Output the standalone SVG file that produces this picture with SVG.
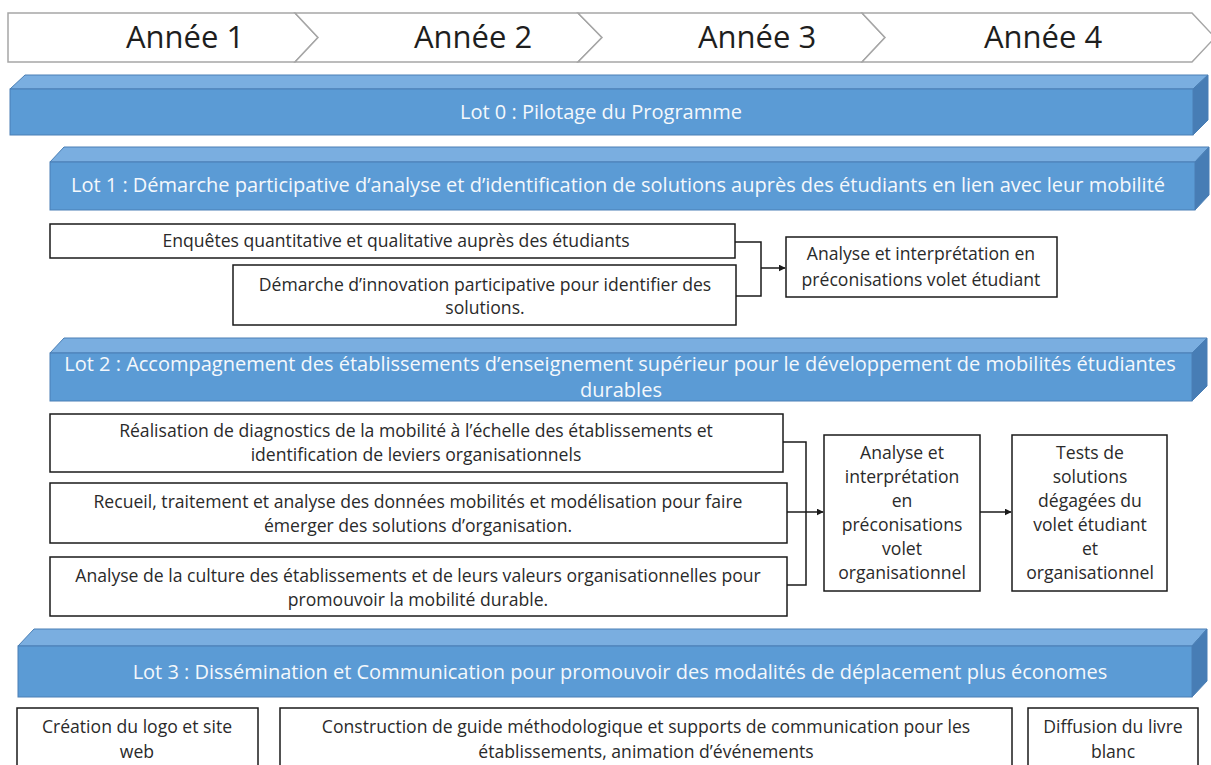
<svg xmlns="http://www.w3.org/2000/svg" width="1211" height="765" viewBox="0 0 1211 765">
  <defs>
    <style>
      .chev { fill: #ffffff; stroke: #a6a6a6; stroke-width: 1.5; }
      .year { font-family: "Open Sans", "Liberation Sans", sans-serif; font-size: 31px; fill: #1e1e1e; text-anchor: middle; }
      .front { fill: #5b9bd5; stroke: #4a7fb5; stroke-width: 1; }
      .top { fill: #7aaee0; stroke: #4a7fb5; stroke-width: 1; }
      .side { fill: #477db5; stroke: #4a7fb5; stroke-width: 1; }
      .lot { font-family: "Open Sans", "Liberation Sans", sans-serif; font-size: 20px; fill: #f4f8fc; text-anchor: middle; }
      .box { fill: #ffffff; stroke: #1a1a1a; stroke-width: 1.5; }
      .txt { font-family: "Open Sans", "Liberation Sans", sans-serif; font-size: 17.6px; fill: #2a2a2a; text-anchor: middle; }
      .wire { fill: none; stroke: #1a1a1a; stroke-width: 1.5; }
    </style>
    <marker id="arrow" viewBox="0 0 10 10" refX="9" refY="5" markerWidth="7" markerHeight="7" markerUnits="userSpaceOnUse" orient="auto">
      <path d="M0,0 L10,5 L0,10 z" fill="#1a1a1a"/>
    </marker>
  </defs>

  <rect width="1211" height="765" fill="#ffffff"/>

  <!-- Year timeline chevrons -->
  <g id="timeline">
    <polygon class="chev" points="8,13 295,13 318,37.5 295,62 8,62"/>
    <polygon class="chev" points="295,13 578,13 602,37.5 578,62 295,62 318,37.5"/>
    <polygon class="chev" points="578,13 862,13 885,37.5 862,62 578,62 602,37.5"/>
    <polygon class="chev" points="862,13 1192,13 1215,37.5 1192,62 862,62 885,37.5"/>
    <text class="year" x="185" y="48">Année 1</text>
    <text class="year" x="473" y="48">Année 2</text>
    <text class="year" x="757" y="48">Année 3</text>
    <text class="year" x="1043" y="48">Année 4</text>
  </g>

  <!-- Lot 0 -->
  <g id="lot0">
    <polygon class="top" points="10,89 25,75 1208,75 1193,89"/>
    <polygon class="side" points="1193,89 1208,75 1208,120 1193,135"/>
    <rect class="front" x="10" y="89" width="1183" height="46"/>
    <text class="lot" x="601" y="119">Lot 0 : Pilotage du Programme</text>
  </g>

  <!-- Lot 1 -->
  <g id="lot1">
    <polygon class="top" points="50,162 64,147 1209,147 1195,162"/>
    <polygon class="side" points="1195,162 1209,147 1209,195 1195,210"/>
    <rect class="front" x="50" y="162" width="1145" height="48"/>
    <text class="lot" x="618" y="192">Lot 1 : Démarche participative d’analyse et d’identification de solutions auprès des étudiants en lien avec leur mobilité</text>
  </g>

  <!-- Lot 1 tasks -->
  <g id="enquetes">
    <rect class="box" x="50" y="224" width="685" height="34"/>
    <text class="txt" x="396" y="247">Enquêtes quantitative et qualitative auprès des étudiants</text>
  </g>
  <g id="innovation">
    <rect class="box" x="233" y="265" width="503" height="60"/>
    <text class="txt" x="485" y="291">Démarche d’innovation participative pour identifier des</text>
    <text class="txt" x="485" y="314">solutions.</text>
  </g>
  <g id="analyse-etudiant">
    <rect class="box" x="786" y="237" width="271" height="60"/>
    <text class="txt" x="921" y="260">Analyse et interprétation en</text>
    <text class="txt" x="921" y="286">préconisations volet étudiant</text>
  </g>

  <!-- Lot 2 -->
  <g id="lot2">
    <polygon class="top" points="50,353 64,338 1207,338 1192,353"/>
    <polygon class="side" points="1192,353 1207,338 1207,386 1192,401"/>
    <rect class="front" x="50" y="353" width="1142" height="48"/>
    <text class="lot" x="620" y="371">Lot 2 : Accompagnement des établissements d’enseignement supérieur pour le développement de mobilités étudiantes</text>
    <text class="lot" x="621" y="397">durables</text>
  </g>

  <!-- Lot 2 tasks -->
  <g id="diagnostics">
    <rect class="box" x="50" y="414" width="733" height="58"/>
    <text class="txt" x="416" y="437">Réalisation de diagnostics de la mobilité  à l’échelle des établissements et</text>
    <text class="txt" x="416" y="461">identification de leviers organisationnels</text>
  </g>
  <g id="recueil">
    <rect class="box" x="50" y="483" width="737" height="60"/>
    <text class="txt" x="418" y="508">Recueil, traitement et analyse des données mobilités et modélisation  pour faire</text>
    <text class="txt" x="418" y="532">émerger des solutions d’organisation.</text>
  </g>
  <g id="culture">
    <rect class="box" x="50" y="557" width="737" height="59"/>
    <text class="txt" x="418" y="582">Analyse de la culture des établissements et de leurs valeurs organisationnelles pour</text>
    <text class="txt" x="418" y="606">promouvoir la mobilité durable.</text>
  </g>
  <g id="analyse-organisationnel">
    <rect class="box" x="824" y="435" width="156" height="156"/>
    <text class="txt" x="902" y="459">Analyse et</text>
    <text class="txt" x="902" y="483">interprétation</text>
    <text class="txt" x="902" y="507">en</text>
    <text class="txt" x="902" y="531">préconisations</text>
    <text class="txt" x="902" y="555">volet</text>
    <text class="txt" x="902" y="579">organisationnel</text>
  </g>
  <g id="tests">
    <rect class="box" x="1012" y="435" width="155" height="156"/>
    <text class="txt" x="1090" y="459">Tests de</text>
    <text class="txt" x="1090" y="483">solutions</text>
    <text class="txt" x="1090" y="507">dégagées du</text>
    <text class="txt" x="1090" y="531">volet étudiant</text>
    <text class="txt" x="1090" y="555">et</text>
    <text class="txt" x="1090" y="579">organisationnel</text>
  </g>

  <!-- Lot 3 -->
  <g id="lot3">
    <polygon class="top" points="18,646 34,629 1207,629 1192,646"/>
    <polygon class="side" points="1192,646 1207,629 1207,681 1192,697"/>
    <rect class="front" x="18" y="646" width="1174" height="51"/>
    <text class="lot" x="620" y="679">Lot 3 : Dissémination et Communication pour promouvoir des modalités de déplacement plus économes</text>
  </g>

  <!-- Lot 3 tasks -->
  <g id="logo">
    <rect class="box" x="17" y="708" width="241" height="70"/>
    <text class="txt" x="137" y="733">Création du logo et site</text>
    <text class="txt" x="137" y="758">web</text>
  </g>
  <g id="guide">
    <rect class="box" x="280" y="708" width="732" height="70"/>
    <text class="txt" x="646" y="733">Construction de guide méthodologique et supports de communication pour les</text>
    <text class="txt" x="646" y="758">établissements, animation d’événements</text>
  </g>
  <g id="livre-blanc">
    <rect class="box" x="1028" y="708" width="170" height="70"/>
    <text class="txt" x="1113" y="733">Diffusion du livre</text>
    <text class="txt" x="1113" y="758">blanc</text>
  </g>

  <!-- Connectors -->
  <g id="connectors">
    <polyline class="wire" points="735,242 761,242 761,296 736,296"/>
    <line class="wire" x1="761" y1="268" x2="785" y2="268" marker-end="url(#arrow)"/>
    <polyline class="wire" points="783,442 806,442 806,585 787,585"/>
    <line class="wire" x1="787" y1="512" x2="823" y2="512" marker-end="url(#arrow)"/>
    <line class="wire" x1="980" y1="512" x2="1011" y2="512" marker-end="url(#arrow)"/>
  </g>
</svg>
